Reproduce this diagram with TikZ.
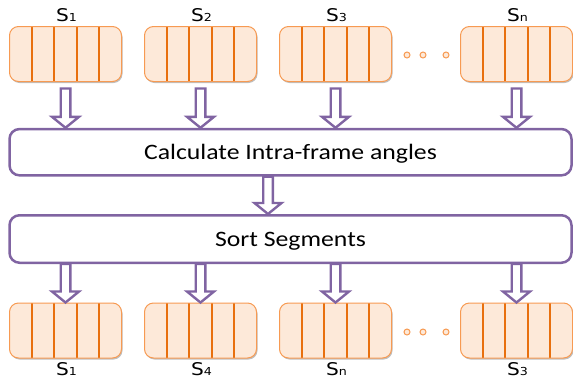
\documentclass[tikz,border=0pt]{standalone}
\usepackage{fontspec}
\usetikzlibrary{calc,shadows}
\newfontfamily\boxfont[FakeStretch=1.17]{Carlito}
\newfontfamily\labfont[FakeStretch=1.15]{DejaVu Sans}
\definecolor{segfill}{HTML}{FDE9D9}
\definecolor{segedge}{HTML}{F79A52}
\definecolor{segbar}{HTML}{E8700F}
\definecolor{purp}{HTML}{8064A2}
\newcommand{\seglabel}[1]{S{\fontsize{11}{12}\selectfont #1}}

\begin{document}
\begin{tikzpicture}[x=1pt,y=-1pt,
  segbox/.style={draw=segedge, fill=segfill, line width=1pt, rounded corners=9pt,
    minimum width=112pt, minimum height=55pt, inner sep=0pt,
    drop shadow={shadow xshift=1pt, shadow yshift=-1.5pt, opacity=0.25, fill=black},
    path picture={\foreach \k in {1,2,3,4}{%
      \draw[segbar, line width=2pt]
        ($(path picture bounding box.north west)!\k/5!(path picture bounding box.north east)$) --
        ($(path picture bounding box.south west)!\k/5!(path picture bounding box.south east)$);}}},
  dot/.style={circle, draw=segedge, fill=segfill, line width=1pt, minimum size=6pt, inner sep=0pt},
  stepbox/.style={draw=purp, line width=2.5pt, rounded corners=10pt, minimum width=562pt,
    inner sep=0pt, font=\boxfont\fontsize{22}{26}\selectfont, text height=14pt, text depth=0pt},
  lab/.style={anchor=base west, inner sep=0pt, font=\labfont\fontsize{17.5}{20}\selectfont},
  fatarrow/.style={draw=purp, fill=white, line width=2.4pt, line join=miter,
    to path={let \p1=(\tikztostart), \p2=(\tikztotarget) in
      (\x1-4.8pt,\y1) -- (\x1-4.8pt,\y2+11pt) -- (\x1-13.5pt,\y2+11pt) -- (\x1,\y2)
      -- (\x1+13.5pt,\y2+11pt) -- (\x1+4.8pt,\y2+11pt) -- (\x1+4.8pt,\y1) -- cycle}}
]
\useasboundingbox (0,0) rectangle (573,378);

% input segments
\node[segbox] (a1) at (65.5,54) {};
\node[segbox] (a2) at (200.5,54) {};
\node[segbox] (a3) at (335.5,54) {};
\node[segbox] (an) at (516.5,54) {};
\node[dot] (ad1) at (407,55) {};
\node[dot] (ad2) at (423,55) {};
\node[dot] (ad3) at (446,55) {};
\node[lab] (la1) at (56,21.5) {\seglabel{1}};
\node[lab] (la2) at (191,21.5) {\seglabel{2}};
\node[lab] (la3) at (326,21.5) {\seglabel{3}};
\node[lab] (lan) at (507,21.5) {\seglabel{n}};

% processing steps
\node[stepbox, minimum height=46.3pt] (calc) at (290.5,152.2) {Calculate Intra-frame angles};
\node[stepbox, minimum height=47.5pt] (sort) at (290.5,239) {Sort Segments};

% sorted segments
\node[segbox] (b1) at (65.5,330.5) {};
\node[segbox] (b2) at (200.5,330.5) {};
\node[segbox] (b3) at (335.5,330.5) {};
\node[segbox] (bn) at (516.5,330.5) {};
\node[dot] (bd1) at (407,332) {};
\node[dot] (bd2) at (423,332) {};
\node[dot] (bd3) at (446,332) {};
\node[lab] (lb1) at (56,375) {\seglabel{1}};
\node[lab] (lb2) at (191,375) {\seglabel{4}};
\node[lab] (lb3) at (326,375) {\seglabel{n}};
\node[lab] (lbn) at (507,375) {\seglabel{3}};

% hollow arrows
\foreach \s in {a1,a2,a3,an}
  \draw[fatarrow] ([yshift=-6.5pt]\s.south) to (calc.north -| \s.south);
\draw[fatarrow] ([xshift=-22.5pt]calc.south) to ([xshift=-22.5pt]sort.north);
\foreach \s in {b1,b2,b3,bn}
  \draw[fatarrow] (sort.south -| \s.north) to (\s.north);
\end{tikzpicture}
\end{document}
